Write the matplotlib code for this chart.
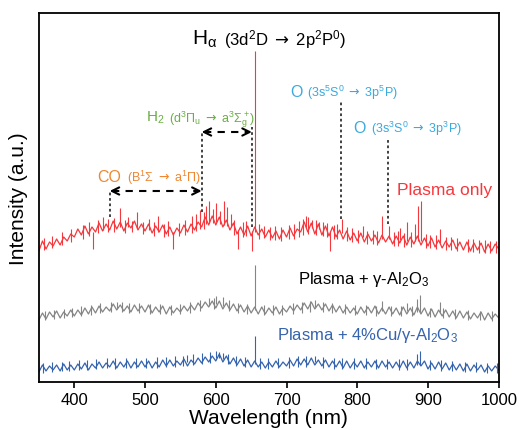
import numpy as np
import matplotlib
matplotlib.use("Agg")
import matplotlib.pyplot as plt

plt.rcParams["font.family"] = ["Liberation Sans", "DejaVu Sans"]
plt.rcParams["mathtext.fontset"] = "custom"
plt.rcParams["mathtext.rm"] = "Liberation Sans"
plt.rcParams["mathtext.it"] = "Liberation Sans:italic"
plt.rcParams["mathtext.bf"] = "Liberation Sans:bold"
plt.rcParams["mathtext.sf"] = "DejaVu Sans"
plt.rcParams["mathtext.fallback"] = "stixsans"

# ── 数据（任意单位，逐 5 nm 读图） ─────────────────────
wavelength = np.arange(350, 1001, 5)

red_base = [
    131, 141, 133, 140, 136, 143, 137, 145, 141, 148,
    145, 153, 147, 156, 148, 155, 150, 159, 151, 158,
    152, 161, 153, 160, 151, 159, 154, 161, 152, 158,
    151, 158, 149, 156, 150, 157, 148, 155, 147, 154,
    149, 157, 150, 158, 152, 160, 155, 165, 157, 166,
    157, 165, 155, 162, 152, 159, 148, 155, 147, 156,
    146, 155, 147, 153, 145, 152, 144, 151, 143, 152,
    145, 154, 146, 153, 150, 160, 150, 159, 148, 158,
    147, 156, 146, 155, 145, 152, 143, 151, 142, 149,
    141, 149, 140, 148, 141, 147, 139, 147, 140, 146,
    138, 146, 139, 146, 137, 145, 138, 146, 137, 144,
    136, 144, 135, 142, 134, 141, 135, 142, 133, 140,
    132, 140, 131, 139, 132, 139, 130, 138, 131, 138,
    133,
]
gray_base = [
    62, 69, 63, 70, 65, 71, 64, 70, 66, 72,
    66, 72, 67, 74, 68, 75, 69, 76, 70, 75,
    71, 78, 72, 77, 71, 76, 70, 77, 71, 76,
    70, 77, 69, 75, 70, 76, 68, 75, 69, 74,
    70, 76, 71, 77, 72, 79, 74, 80, 75, 81,
    74, 81, 73, 79, 72, 78, 71, 77, 70, 76,
    69, 75, 68, 75, 68, 74, 69, 75, 68, 74,
    70, 76, 71, 77, 72, 79, 73, 80, 73, 78,
    72, 78, 71, 77, 70, 76, 69, 75, 69, 74,
    68, 75, 69, 75, 69, 76, 68, 74, 68, 75,
    68, 74, 67, 75, 68, 74, 67, 75, 68, 74,
    66, 73, 65, 72, 66, 72, 65, 71, 64, 71,
    64, 70, 63, 69, 64, 70, 62, 69, 63, 68,
    64,
]
blue_base = [
    10, 17, 11, 16, 12, 17, 11, 18, 12, 17,
    12, 18, 13, 19, 12, 18, 14, 20, 14, 19,
    15, 21, 14, 20, 15, 21, 14, 20, 15, 21,
    15, 21, 14, 20, 15, 22, 16, 22, 16, 21,
    17, 23, 16, 22, 18, 24, 19, 25, 20, 26,
    21, 28, 20, 26, 18, 24, 17, 23, 16, 22,
    15, 21, 15, 20, 14, 20, 15, 21, 15, 20,
    16, 22, 16, 23, 17, 23, 17, 24, 17, 22,
    16, 22, 15, 21, 15, 21, 14, 21, 14, 20,
    15, 21, 14, 20, 15, 21, 14, 21, 15, 20,
    14, 20, 14, 21, 14, 20, 14, 21, 16, 21,
    13, 19, 13, 20, 13, 19, 12, 18, 12, 18,
    11, 18, 11, 17, 12, 17, 10, 16, 11, 16,
    12,
]

# 尖峰/凹陷：位置、起点、终点
red_spike_wl = [427, 440, 465, 476, 488, 505, 518, 540, 578, 586, 591, 596, 601, 606,
                611, 616, 621, 631, 651, 656, 728, 736, 746, 761, 778, 808, 835, 845,
                861, 870, 881, 886, 890, 917]
red_spike_lo = [150, 152, 155, 155, 154, 152, 150, 150, 153, 158, 159, 159, 160, 158,
                157, 156, 155, 152, 151, 150, 154, 154, 153, 151, 149, 145, 143, 143,
                142, 141, 141, 141, 141, 139]
red_spike_hi = [133, 165, 174, 165, 170, 163, 166, 133, 172, 176, 181, 173, 179, 171,
                181, 175, 168, 133, 131, 331, 166, 162, 160, 131, 163, 156, 166, 156,
                154, 160, 158, 176, 181, 153]

gray_spike_wl = [460, 590, 600, 610, 656, 740, 835, 870, 884, 889, 917]
gray_spike_lo = [74, 77, 78, 76, 72, 75, 71, 71, 70, 70, 69]
gray_spike_hi = [80, 84, 86, 85, 117, 82, 81, 79, 83, 87, 80]

blue_spike_wl = [560, 600, 605, 610, 656, 740, 884, 889]
blue_spike_lo = [20, 24, 24, 23, 18, 20, 17, 17]
blue_spike_hi = [27, 31, 30, 29, 46, 26, 28, 31]

# 噪声带的细碎毛刺：位置、下沿、上沿
red_noise_wl = [357, 368, 383, 396, 412, 421, 433, 447, 456, 471, 482, 497, 512, 527,
                533, 548, 557, 566, 572, 583, 626, 638, 643, 661, 668, 676, 683, 692,
                703, 711, 718, 723, 731, 741, 752, 757, 767, 772, 786, 793, 801, 814,
                822, 828, 852, 857, 866, 876, 897, 903, 911, 925, 932, 941, 956, 963,
                972, 981, 988, 996]
red_noise_lo = [132, 134, 137, 140, 143, 146, 149, 150, 150, 149, 150, 148, 146, 145,
                146, 146, 147, 149, 151, 153, 147, 145, 146, 143, 144, 142, 142, 141,
                143, 143, 145, 147, 148, 147, 146, 145, 143, 143, 141, 140, 139, 138,
                138, 137, 136, 136, 135, 135, 134, 134, 133, 132, 132, 131, 130, 130,
                129, 129, 129, 129]
red_noise_hi = [144, 146, 150, 153, 157, 160, 162, 163, 164, 162, 161, 160, 160, 158,
                161, 159, 162, 166, 168, 170, 162, 160, 161, 158, 156, 155, 156, 155,
                157, 158, 161, 163, 165, 162, 160, 159, 157, 158, 155, 154, 152, 151,
                152, 151, 150, 151, 149, 150, 148, 147, 147, 145, 145, 144, 143, 143,
                142, 142, 141, 141]

gray_noise_wl = [358, 371, 386, 397, 409, 423, 437, 452, 468, 478, 491, 507, 521, 536,
                 549, 563, 577, 597, 618, 632, 644, 668, 681, 694, 709, 722, 733, 751,
                 764, 783, 797, 812, 826, 848, 862, 877, 903, 921, 938, 957, 974, 991]
gray_noise_lo = [62, 63, 64, 65, 66, 67, 69, 70, 70, 69, 69, 68, 68, 67,
                 68, 69, 71, 73, 71, 69, 68, 67, 67, 67, 68, 69, 70, 70,
                 69, 68, 67, 67, 66, 66, 66, 66, 65, 64, 63, 62, 62, 61]
gray_noise_hi = [71, 72, 73, 74, 76, 77, 79, 80, 80, 79, 79, 78, 78, 77,
                 78, 80, 82, 84, 82, 79, 78, 77, 77, 77, 79, 80, 81, 80,
                 79, 78, 77, 77, 76, 76, 76, 76, 74, 74, 73, 72, 71, 71]

blue_noise_wl = [356, 369, 382, 393, 407, 418, 431, 446, 458, 473, 487, 502, 517, 529,
                 543, 553, 568, 581, 592, 617, 628, 641, 663, 674, 688, 703, 716, 728,
                 752, 767, 779, 796, 813, 827, 842, 859, 871, 903, 918, 934, 952, 968,
                 983, 997]
blue_noise_lo = [9, 10, 11, 11, 12, 12, 13, 14, 13, 14, 14, 14, 14, 15,
                 15, 16, 17, 18, 19, 18, 16, 15, 13, 13, 14, 14, 15, 15,
                 14, 13, 13, 13, 13, 13, 13, 12, 12, 12, 11, 11, 10, 10,
                 9, 9]
blue_noise_hi = [19, 20, 20, 21, 22, 22, 23, 24, 24, 24, 24, 24, 25, 25,
                 26, 26, 28, 29, 30, 28, 26, 25, 24, 24, 24, 25, 26, 26,
                 25, 24, 24, 24, 24, 23, 23, 23, 23, 22, 22, 21, 20, 20,
                 19, 19]

# 标注竖线（nm）与高度
mark_wl = [450, 580, 651, 777, 844]
mark_top = [191, 250, 255, 280, 243]
mark_bot = [165, 170, 155, 163, 158]

RED = "#f5383d"
GRAY = "#858585"
BLUE = "#3563ad"
GREEN = "#6aae45"
ORANGE = "#ee8733"
LBLUE = "#3aa9dd"

fig = plt.figure(figsize=(5.19, 4.31), dpi=100)
ax = fig.add_axes([0.075, 0.1114, 0.886, 0.8561])

series = [
    (red_base, red_spike_wl + red_noise_wl, red_spike_lo + red_noise_lo,
     red_spike_hi + red_noise_hi, RED),
    (gray_base, gray_spike_wl + gray_noise_wl, gray_spike_lo + gray_noise_lo,
     gray_spike_hi + gray_noise_hi, GRAY),
    (blue_base, blue_spike_wl + blue_noise_wl, blue_spike_lo + blue_noise_lo,
     blue_spike_hi + blue_noise_hi, BLUE),
]
for base, swl, slo, shi, c in series:
    ax.plot(wavelength, base, color=c, lw=0.9)
    ax.vlines(swl, slo, shi, color=c, lw=0.8)

ax.vlines(mark_wl, mark_bot, mark_top, colors="#333333", linestyles=(0, (1.5, 1.5)), lw=1.3)


def dashed_arrow(x0, x1, y):
    ax.plot([x0 + 3, x1 - 3], [y, y], color="k", lw=1.5, ls=(0, (3.5, 3)))
    for a, b in [(x0 + 8, x0), (x1 - 8, x1)]:
        ax.annotate("", xy=(b, y), xytext=(a, y),
                    arrowprops=dict(arrowstyle="->", color="k", lw=1.5,
                                    shrinkA=0, shrinkB=0, mutation_scale=13))


dashed_arrow(450, 580, 191)
dashed_arrow(580, 651, 250)


def two_part(x, y, big, small, color, s1, s2, gap=3):
    t1 = ax.text(x, y, big, color=color, fontsize=s1, va="baseline", ha="left")
    fig.canvas.draw()
    bb = t1.get_window_extent()
    x2 = ax.transData.inverted().transform((bb.x1 + gap, 0))[0]
    ax.text(x2, y, small, color=color, fontsize=s2, va="baseline", ha="left")


ARROW = "$\\mathsf{\\rightarrow}$"
two_part(567, 338, "H$_\\mathrm{α}$", f"(3d$^2$D {ARROW} 2p$^2$P$^0$)", "k", 15, 12)
two_part(501, 261, "H$_2$", f"(d$^3$Π$_\\mathrm{{u}}$ {ARROW} a$^3$Σ$_\\mathrm{{g}}^+$)", GREEN, 11, 9)
two_part(433, 201, "CO", f"(B$^1$Σ {ARROW} a$^1$Π)", ORANGE, 11.5, 9)
two_part(705, 286, "O", f"(3s$^5$S$^0$ {ARROW} 3p$^5$P)", LBLUE, 11.5, 9)
two_part(795, 250, "O", f"(3s$^3$S$^0$ {ARROW} 3p$^3$P)", LBLUE, 11.5, 9)

ax.text(856, 188, "Plasma only", color=RED, fontsize=12.5, va="baseline")
ax.text(716, 99, "Plasma + γ-Al$_2$O$_3$", color="k", fontsize=12, va="baseline")
ax.text(686, 43, "Plasma + 4%Cu/γ-Al$_2$O$_3$", color=BLUE, fontsize=12, va="baseline")

ax.set_xlim(350, 1000)
ax.set_ylim(0, 369)
ax.set_xticks([400, 500, 600, 700, 800, 900, 1000])
ax.set_yticks([])
ax.tick_params(axis="x", direction="out", length=4, width=1.2, labelsize=12, pad=3)
for sp in ax.spines.values():
    sp.set_linewidth(1.3)
ax.set_xlabel("Wavelength (nm)", fontsize=15, labelpad=1)
ax.set_ylabel("Intensity (a.u.)", fontsize=15, labelpad=8)

fig.savefig("out.png", dpi=100)
